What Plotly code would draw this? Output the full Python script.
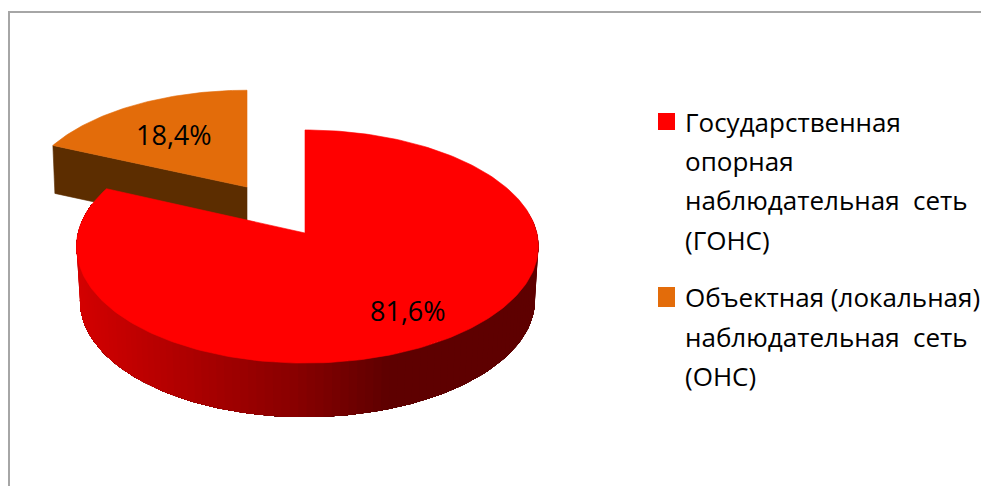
import numpy as np
import plotly.graph_objects as go

categories = ["Государственная опорная наблюдательная сеть (ГОНС)",
              "Объектная (локальная) наблюдательная сеть (ОНС)"]
shares = [81.6, 18.4]
value_labels = ["81,6%", "18,4%"]
legend_lines = [["Государственная", "опорная", "наблюдательная  сеть", "(ГОНС)"],
                ["Объектная (локальная)", "наблюдательная  сеть", "(ОНС)"]]
colors = ["#ff0000", "#e36c0a"]

FONT = "Open Sans"
K = 0.116
W, H = 981, 486


def project(theta, apex, rx, ry, skew=0.0):
    w = 1 + K * np.cos(theta)
    return (apex[0] + rx * np.sin(theta) / w + skew * np.sin(theta) ** 2,
            apex[1] - ry * np.cos(theta) / w)


def poly(xs, ys, color, name, lw=0.6):
    return go.Scatter(x=list(xs), y=list(ys), mode="lines", fill="toself", fillcolor=color,
                      line=dict(color=color, width=lw), hoverinfo="skip", showlegend=False, name=name)


def wall_color(x):
    stops_x = [77, 300, 390, 538]
    stops_r = [212, 135, 94, 94]
    return f"rgb({int(np.interp(x, stops_x, stops_r))},0,0)"


end = 2 * np.pi * shares[0] / sum(shares)
fig = go.Figure()

# detached slice (second category)
a2, rx2, ry2, h2 = (247, 187), 222, 108, 48
th2 = np.linspace(end, 2 * np.pi, 80)
px2, py2 = project(th2, a2, rx2, ry2)
fig.add_trace(poly([px2[0], a2[0], a2[0], px2[0] + 2, px2[0]],
                   [py2[0], a2[1], a2[1] + h2, py2[0] + h2, py2[0]], "#5c2d00", categories[1]))
fig.add_trace(poly([a2[0], *px2, a2[0]], [a2[1], *py2, a2[1]], colors[1], categories[1]))

# main slice (first category): side wall then top face.
# Each band runs to the far end of the wall and the next one paints over it, so no seams show.
a1, rx1, ry1, h1, skew1 = (305, 233), 229.4, 115, 54, 2.5
edges = np.linspace(np.radians(78), min(np.radians(285), end), 111)
for i in range(len(edges) - 1):
    arc = edges[i:]
    ax, ay = project(arc, a1, rx1, ry1, skew1)
    bx, by = project(arc, a1, rx1 * 0.985, ry1, skew1)
    mx, _ = project((edges[i] + edges[i + 1]) / 2, a1, rx1, ry1, skew1)
    fig.add_trace(poly([*ax, *bx[::-1], ax[0]], [*ay, *(by[::-1] + h1), ay[0]],
                       wall_color(mx), categories[0], lw=0))
th1 = np.linspace(0, end, 240)
px1, py1 = project(th1, a1, rx1, ry1, skew1)
fig.add_trace(poly([a1[0], *px1, a1[0]], [a1[1], *py1, a1[1]], colors[0], categories[0]))

ann = []
for txt, (x, y) in zip(value_labels, [(408, 310), (174, 134)]):
    ann.append(dict(x=x, y=y, text=txt, showarrow=False, xanchor="center", yanchor="middle",
                    font=dict(family=FONT, size=27, color="#000000")))
line_y = [[122, 161, 200, 240], [297, 337, 376]]
for lines, ys in zip(legend_lines, line_y):
    for txt, y in zip(lines, ys):
        ann.append(dict(x=682.5, y=y, text=txt, showarrow=False, xanchor="left", yanchor="middle",
                        font=dict(family=FONT, size=26, color="#000000")))

shapes = [
    dict(type="line", x0=8, x1=981, y0=12, y1=12, line=dict(color="#a6a6a6", width=2)),
    dict(type="line", x0=9, x1=9, y0=11, y1=486, line=dict(color="#a6a6a6", width=2)),
    dict(type="rect", x0=658, x1=675, y0=113, y1=130, fillcolor=colors[0], line_width=0),
    dict(type="rect", x0=658, x1=675, y0=287, y1=307, fillcolor=colors[1], line_width=0),
]

fig.update_layout(width=W, height=H, margin=dict(l=0, r=0, t=0, b=0), paper_bgcolor="white",
                  plot_bgcolor="white", showlegend=False, annotations=ann, shapes=shapes,
                  xaxis=dict(range=[0, W], visible=False, fixedrange=True),
                  yaxis=dict(range=[H, 0], visible=False, fixedrange=True))
fig.write_html("out.html", config={"displayModeBar": False},
               post_script="document.body.style.margin='0';document.body.style.overflow='hidden';")
